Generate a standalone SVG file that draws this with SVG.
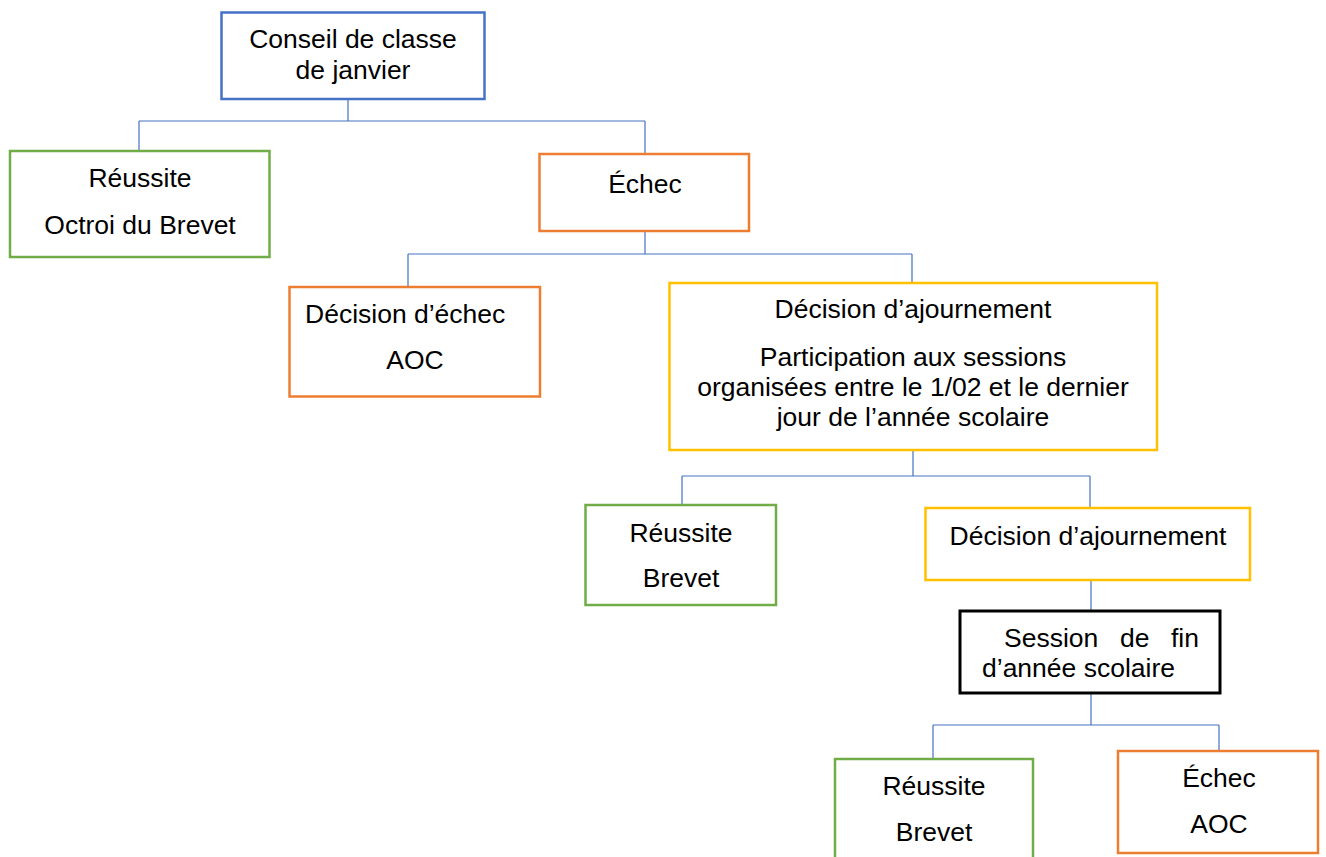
<svg xmlns="http://www.w3.org/2000/svg" width="1326" height="857" viewBox="0 0 1326 857">
<style>
  .box { fill: #FFFFFF; stroke-width: 2.5; }
  .blue { stroke: #4472C4; }
  .green { stroke: #70AD47; }
  .orange { stroke: #ED7D31; }
  .yellow { stroke: #FFC000; }
  .black { stroke: #000000; stroke-width: 3; }
  .t { font-family: "Liberation Sans", Arial, sans-serif; font-size: 26.5px; fill: #000000; text-anchor: middle; }
  .l { text-anchor: start; }
  .conn { fill: none; stroke: #4472C4; stroke-width: 1.2; }
</style>
<rect width="1326" height="857" fill="#FFFFFF"/>
<g id="connectors">
  <path class="conn" d="M348,99 V121 M139,121 H645 M139,121 V151 M645,121 V154"/>
  <path class="conn" d="M645,231 V254 M408,254 H912 M408,254 V287 M912,254 V283"/>
  <path class="conn" d="M913,450 V476 M682,476 H1090 M682,476 V505 M1090,476 V508"/>
  <path class="conn" d="M1091,580 V611"/>
  <path class="conn" d="M1091,693 V725 M933,725 H1219 M933,725 V759 M1219,725 V751"/>
</g>
<g id="conseil">
  <rect class="box blue" x="221.5" y="12.5" width="263" height="86.5"/>
  <text class="t" x="353" y="48">Conseil de classe</text>
  <text class="t" x="353" y="79">de janvier</text>
</g>
<g id="reussite1">
  <rect class="box green" x="10" y="151" width="259.5" height="106"/>
  <text class="t" x="140" y="187">Réussite</text>
  <text class="t" x="140" y="234">Octroi du Brevet</text>
</g>
<g id="echec1">
  <rect class="box orange" x="539.5" y="154" width="209.5" height="77"/>
  <text class="t" x="645" y="193">Échec</text>
</g>
<g id="decision-echec">
  <rect class="box orange" x="289.5" y="287" width="250.5" height="109.5"/>
  <text class="t l" x="305" y="323">Décision d’échec</text>
  <text class="t" x="415" y="369">AOC</text>
</g>
<g id="decision-ajournement1">
  <rect class="box yellow" x="669.5" y="283" width="487.5" height="167"/>
  <text class="t" x="913" y="318">Décision d’ajournement</text>
  <text class="t" x="913" y="366">Participation aux sessions</text>
  <text class="t" x="913" y="396">organisées entre le 1/02 et le dernier</text>
  <text class="t" x="913" y="426">jour de l’année scolaire</text>
</g>
<g id="reussite2">
  <rect class="box green" x="585.5" y="505" width="190.5" height="100"/>
  <text class="t" x="681" y="542">Réussite</text>
  <text class="t" x="681" y="587">Brevet</text>
</g>
<g id="decision-ajournement2">
  <rect class="box yellow" x="925.5" y="508" width="324.5" height="72"/>
  <text class="t" x="1088" y="545">Décision d’ajournement</text>
</g>
<g id="session-fin">
  <rect class="box black" x="960" y="611" width="260" height="82"/>
  <text class="t l" x="1004" y="647">Session</text>
  <text class="t l" x="1120" y="647">de</text>
  <text class="t l" x="1171" y="647">fin</text>
  <text class="t l" x="982" y="677">d’année scolaire</text>
</g>
<g id="reussite3">
  <rect class="box green" x="835" y="759" width="198" height="110"/>
  <text class="t" x="934" y="795">Réussite</text>
  <text class="t" x="934" y="841">Brevet</text>
</g>
<g id="echec2">
  <rect class="box orange" x="1118" y="751" width="200" height="102"/>
  <text class="t" x="1219" y="787">Échec</text>
  <text class="t" x="1219" y="833">AOC</text>
</g>
</svg>
